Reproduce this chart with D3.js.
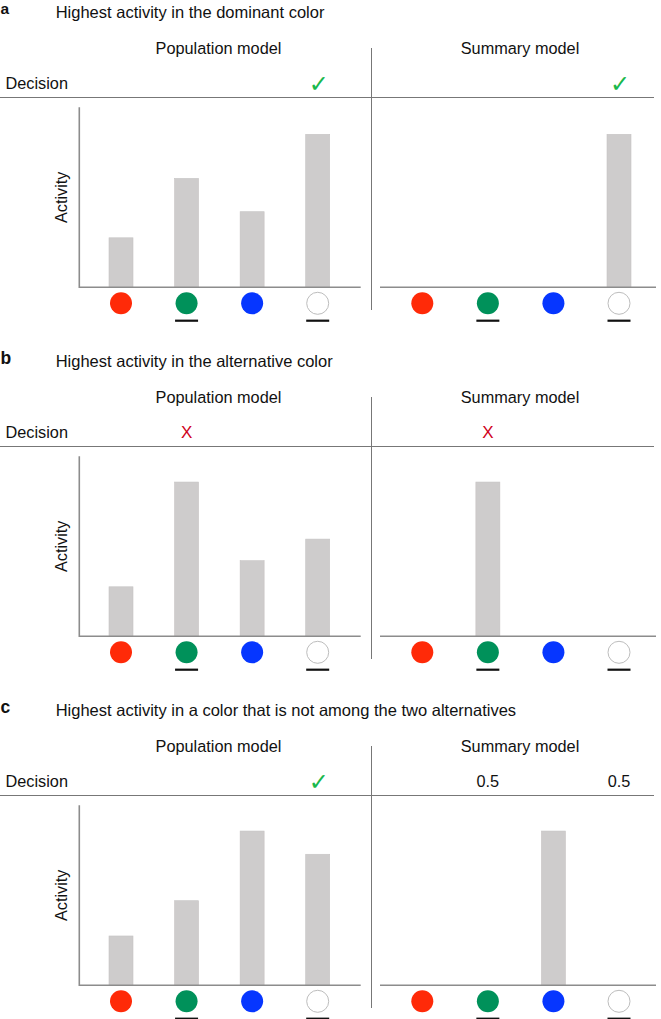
<!DOCTYPE html>
<html>
<head>
<meta charset="utf-8">
<script src="https://cdn.jsdelivr.net/npm/d3@7/dist/d3.min.js"></script>
<style>
  html, body { margin: 0; padding: 0; background: #fff; }
  svg { display: block; }
  text { font-family: "Liberation Sans", Arial, Helvetica, sans-serif; fill: #111; }
</style>
</head>
<body>
<svg id="chart" width="661" height="1019"></svg>
<script>
// ---------- data ----------
const categories = ["red", "green", "blue", "white"];
const circleColors = ["#ff2a08", "#00915a", "#0636ff", "#ffffff"];
const alternatives = ["green", "white"];           // underlined options
const panelLabels = ["a", "b", "c"];
const panelTitles = [
  "Highest activity in the dominant color",
  "Highest activity in the alternative color",
  "Highest activity in a color that is not among the two alternatives"
];
const modelTitles = ["Population model", "Summary model"];
const rowLabel = "Decision";
const axisLabel = "Activity";

const populationA = [0.275, 0.605, 0.42, 0.85];
const populationB = [0.275, 0.857, 0.42, 0.54];
const populationC = [0.274, 0.47, 0.857, 0.728];
const summaryA = [0, 0, 0, 0.85];
const summaryB = [0, 0.857, 0, 0];
const summaryC = [0, 0, 0.857, 0];

// decision marks: [category, text]
const populationDecisionA = [["white", "✓"]];
const populationDecisionB = [["green", "X"]];
const populationDecisionC = [["white", "✓"]];
const summaryDecisionA = [["white", "✓"]];
const summaryDecisionB = [["green", "X"]];
const summaryDecisionC = [["green", "0.5"], ["white", "0.5"]];

const panels = [
  { pop: populationA, sum: summaryA, popDec: populationDecisionA, sumDec: summaryDecisionA },
  { pop: populationB, sum: summaryB, popDec: populationDecisionB, sumDec: summaryDecisionB },
  { pop: populationC, sum: summaryC, popDec: populationDecisionC, sumDec: summaryDecisionC }
];

// ---------- layout ----------
const svg = d3.select("#chart");
const panelStep = 349;
const labelBaselines = [14, 364.3, 713.3];
const labelSizes = [15.5, 17.5, 17.5];
const lineColor = "#777";
const axisColor = "#8c8c8c";
const barFill = "#cecccc";
const barWidth = 24;
const fs = 16.3;

const y = d3.scaleLinear().domain([0, 1]).range([287.3, 107.3]);
const models = [
  { x: d3.scalePoint().domain(categories).range([121, 317.7]), axisStart: 79.3, axisEnd: 360.7, titleX: 218.5 },
  { x: d3.scalePoint().domain(categories).range([422.3, 619]), axisStart: 380, axisEnd: 656, titleX: 520 }
];

panels.forEach((p, i) => {
  const g = svg.append("g").attr("transform", `translate(0,${i * panelStep})`);

  // panel letter
  svg.append("text")
    .attr("x", 0.5).attr("y", labelBaselines[i])
    .attr("font-size", labelSizes[i]).attr("font-weight", "bold")
    .text(panelLabels[i]);

  // title
  g.append("text").attr("x", 55.7).attr("y", 18.3)
    .attr("font-size", 16.5).text(panelTitles[i]);

  // Decision label
  g.append("text").attr("x", 5.5).attr("y", 89.3)
    .attr("font-size", fs).text(rowLabel);

  // horizontal decision line
  g.append("line").attr("x1", 0).attr("x2", 654).attr("y1", 97.5).attr("y2", 97.5)
    .attr("stroke", lineColor).attr("stroke-width", 1);

  // vertical divider
  g.append("line").attr("x1", 371.5).attr("x2", 371.5).attr("y1", 48).attr("y2", 310)
    .attr("stroke", lineColor).attr("stroke-width", 1);

  // y-axis label
  g.append("text")
    .attr("transform", `translate(67,${(y.range()[0] + y.range()[1]) / 2}) rotate(-90)`)
    .attr("text-anchor", "middle").attr("font-size", fs)
    .text(axisLabel);

  [[p.pop, p.popDec], [p.sum, p.sumDec]].forEach(([vals, decs], m) => {
    const M = models[m];
    const x = M.x;

    g.append("text").attr("x", M.titleX).attr("y", 54)
      .attr("text-anchor", "middle").attr("font-size", fs)
      .text(modelTitles[m]);

    // bars
    g.append("g").selectAll("rect")
      .data(categories.map((c, k) => ({ c, v: vals[k] })).filter(d => d.v > 0))
      .join("rect")
      .attr("x", d => x(d.c) - barWidth / 2)
      .attr("width", barWidth)
      .attr("y", d => y(d.v))
      .attr("height", d => y(0) - y(d.v))
      .attr("fill", barFill)
      .attr("stroke", "#c6c4c4").attr("stroke-width", 0.6);

    // axes
    if (m === 0) {
      g.append("path")
        .attr("d", d3.line()([[M.axisStart, y(1)], [M.axisStart, y(0)], [M.axisEnd, y(0)]]))
        .attr("fill", "none").attr("stroke", axisColor).attr("stroke-width", 1.6);
    } else {
      g.append("path")
        .attr("d", d3.line()([[M.axisStart, y(0)], [M.axisEnd, y(0)]]))
        .attr("fill", "none").attr("stroke", axisColor).attr("stroke-width", 1.6);
    }

    // colored circles
    g.append("g").selectAll("circle")
      .data(categories)
      .join("circle")
      .attr("cx", d => x(d)).attr("cy", 303.3).attr("r", 11)
      .attr("fill", (d, k) => circleColors[k])
      .attr("stroke", d => d === "white" ? "#bdbdbd" : "none")
      .attr("stroke-width", 1);

    // underlines for alternatives
    g.append("g").selectAll("rect")
      .data(alternatives)
      .join("rect")
      .attr("x", d => x(d) - 11.5).attr("y", 319.6)
      .attr("width", 23).attr("height", 2.2)
      .attr("fill", "#111");

    // decision marks
    decs.forEach(([c, t]) => {
      const txt = g.append("text")
        .attr("x", x(c) + (t === "✓" ? 1 : 0)).attr("text-anchor", "middle").text(t);
      if (t === "✓") {
        txt.attr("y", 91.5).attr("font-size", 24)
          .style("font-family", "'DejaVu Sans', sans-serif")
          .style("fill", "#19b84c");
      } else if (t === "X") {
        txt.attr("y", 89.3).attr("font-size", 17).style("fill", "#d0021b");
      } else {
        txt.attr("y", 89.3).attr("font-size", fs);
      }
    });
  });
});
</script>
</body>
</html>
